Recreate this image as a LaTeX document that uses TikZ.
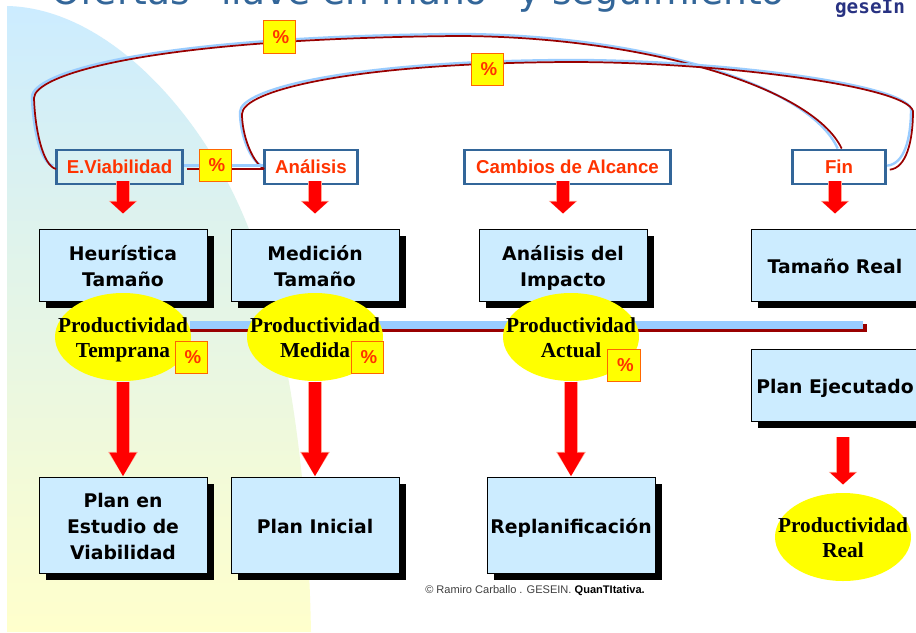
\documentclass[tikz,border=0pt]{standalone}
\usepackage{fontspec}
\setmainfont{Liberation Sans}
\newfontfamily\boxfont{DejaVu Sans}
\newfontfamily\logofont{DejaVu Sans Mono}
\newfontfamily\ovalfont{Liberation Serif}
\usetikzlibrary{arrows.meta,shadows,shapes.geometric}

\definecolor{boxblue}{RGB}{204,236,255}
\definecolor{framblue}{RGB}{51,102,153}
\definecolor{labred}{RGB}{255,51,0}
\definecolor{wireblue}{RGB}{153,204,255}
\definecolor{wirered}{RGB}{153,0,0}
\definecolor{bgtop}{RGB}{204,236,255}
\definecolor{bgbot}{RGB}{255,255,204}
\definecolor{ovalyellow}{RGB}{255,255,0}
\definecolor{pctedge}{RGB}{255,102,0}
\definecolor{halored}{RGB}{255,170,150}
\definecolor{logoblue}{RGB}{40,50,130}
\definecolor{pureRed}{RGB}{255,0,0}

\newcommand{\boxline}[1]{\smash{\raisebox{-6.6pt}{#1}}}
\newcommand{\ovalline}[1]{\smash{\raisebox{-6pt}{#1}}}

\tikzset{every picture/.style={line width=0.75pt}}
\tikzset{
  planbox/.style={draw=black,fill=boxblue,minimum width=126pt,minimum height=54pt,inner sep=0pt,align=center,
    font=\boxfont\bfseries\fontsize{14.1}{19.5}\selectfont,
    drop shadow={shadow xshift=5.6pt,shadow yshift=-5.6pt,fill=black,opacity=1}},
  hitobox/.style={draw=framblue,line width=2.2pt,minimum height=25.5pt,inner sep=0pt,text=labred,
    font=\bfseries\fontsize{14}{16}\selectfont},
  prodoval/.style={ellipse,fill=ovalyellow,minimum width=102pt,minimum height=66pt,inner xsep=-14pt,inner ysep=0pt,align=center,
    font=\ovalfont\bfseries\fontsize{16}{19}\selectfont},
  pctbox/.style={draw=pctedge,fill=ovalyellow,minimum size=24.5pt,inner sep=0pt,text=labred,
    font=\bfseries\fontsize{14}{16}\selectfont,
    execute at begin node={\kern2pt}},
  longarrow/.style={draw=pureRed,line width=9pt,-{Triangle[width=19pt,length=18pt]},
    preaction={draw=halored,line width=10.2pt,-{Triangle[width=21pt,length=18.5pt]}}},
  flatarrow/.style={draw=pureRed,line width=9pt,-{Triangle[width=19pt,length=9pt]},
    preaction={draw=halored,line width=10.2pt,-{Triangle[width=21pt,length=9.5pt]}}},
  wireback/.style={draw=wireblue,line width=1.8pt},
  wirefront/.style={draw=wirered,line width=1.3pt},
}

\begin{document}
\begin{tikzpicture}[x=0.75pt,y=0.75pt,yscale=-1,xscale=1]
\useasboundingbox (0,0) rectangle (916,632);
\fill[white] (0,0) rectangle (916,632);

%Shape: Background
\path[top color=bgtop,bottom color=bgbot,shading angle=0] (7,6) .. controls (110,8) and (210,120) .. (253,240) .. controls (290,345) and (308,480) .. (311,632) -- (7,632) -- cycle ;

% Text Node
\draw (418,4.5) node (title) [anchor=base,text=framblue] {\boxfont\fontsize{28.2}{30}\selectfont Ofertas “llave en mano” y seguimiento};
% Text Node
\draw (870,13) node (logo) [anchor=base,text=logoblue] {\logofont\bfseries\fontsize{14.5}{15}\selectfont geseIn};

%Shape: Bar
\draw [wirered,line width=6pt] (190,328) -- (866.5,328) ;
\draw [wireblue,line width=6pt] (190,325) -- (863,325) ;

% Hito boxes
\draw (119.5,167) node (eviab) [hitobox,minimum width=95pt] {E.Viabilidad};
\draw (311,167) node (anal) [hitobox,minimum width=70pt] {Análisis};
\draw (567.5,167) node (cambios) [hitobox,minimum width=155pt] {Cambios de Alcance};
\draw (839,167) node (fin) [hitobox,minimum width=70pt] {Fin};

% Plan boxes
\draw (123,265) node (heur) [planbox] {\boxline{Heurística}\\\boxline{Tamaño}};
\draw (315,265) node (medic) [planbox] {\boxline{Medición}\\\boxline{Tamaño}};
\draw (563,265) node (impacto) [planbox] {\boxline{Análisis del}\\\boxline{Impacto}};
\draw (835,265) node (treal) [planbox] {\boxline{Tamaño Real}};
\draw (835,385) node (pejec) [planbox] {\boxline{Plan Ejecutado}};
\draw (123,525) node (pestudio) [planbox,minimum height=72pt] {\boxline{Plan en}\\\boxline{Estudio de}\\\boxline{Viabilidad}};
\draw (315,525) node (pinicial) [planbox,minimum height=72pt] {\boxline{Plan Inicial}};
\draw (571,525) node (replan) [planbox,minimum height=72pt] {\boxline{Replanificación}};

% Ovals
\draw (123,337) node (ptemp) [prodoval] {\ovalline{Productividad}\\\ovalline{Temprana}};
\draw (315,337) node (pmed) [prodoval] {\ovalline{Productividad}\\\ovalline{Medida}};
\draw (571,337) node (pact) [prodoval] {\ovalline{Productividad}\\\ovalline{Actual}};
\draw (843,537) node (preal) [prodoval] {\ovalline{Productividad}\\\ovalline{Real}};

%Curve Lines
\draw [wireback] ([shift={(-1pt,-1pt)}]eviab.west) .. controls (41,164) and (33,130) .. (32,97) .. controls (32,74) and (140,37) .. (456,34) .. controls (640,34) and (809,84) .. ([xshift=-1pt]fin.north) ;
\draw [wirefront] ([shift={(1pt,1.5pt)}]eviab.west) .. controls (43,166) and (35,130) .. (34,98) .. controls (34,76) and (140,39) .. (456,36) .. controls (640,36) and (812,86) .. ([xshift=2pt]fin.north) ;
\draw [wireback] ([shift={(-1pt,-1pt)}]anal.west) .. controls (250,160) and (240,135) .. (240,112) .. controls (240,89) and (350,61) .. (570,60) .. controls (720,60) and (904,84) .. (911,109) .. controls (911,140) and (904,164) .. ([yshift=-1pt]fin.east) ;
\draw [wirefront] ([shift={(1pt,1.5pt)}]anal.west) .. controls (252,162) and (242,135) .. (242,114) .. controls (242,91) and (350,63) .. (570,62) .. controls (720,62) and (906,86) .. (913,111) .. controls (913,142) and (906,168) .. ([shift={(2pt,2pt)}]fin.east) ;
\draw [wireback] ([yshift=-1pt]eviab.east) -- ([yshift=-1pt]anal.west) ;
\draw [wirefront] ([shift={(2pt,1.5pt)}]eviab.east) -- ([shift={(1pt,1.5pt)}]anal.west) ;

% Percent boxes
\draw (279.5,37) node (pcta) [pctbox] {\%};
\draw (487.5,69.5) node (pctb) [pctbox] {\%};
\draw (215.5,165.5) node (pctc) [pctbox] {\%};
\draw (191.5,357.5) node (pctd) [pctbox] {\%};
\draw (367.5,357.5) node (pcte) [pctbox] {\%};
\draw (624,365.5) node (pctf) [pctbox] {\%};

%Straight Lines
\draw [flatarrow,shorten >=11.25pt] (123,181) -- (heur.north) ;
\draw [flatarrow,shorten >=11.25pt] (315,181) -- (medic.north) ;
\draw [flatarrow,shorten >=11.25pt] (563,181) -- (impacto.north) ;
\draw [flatarrow,shorten >=11.25pt] (835,181) -- (treal.north) ;
\draw [longarrow] (ptemp.south) -- (pestudio.north) ;
\draw [longarrow] (pmed.south) -- (pinicial.north) ;
\draw [longarrow] (pact.south) -- (replan.north) ;
\draw [flatarrow,shorten <=12pt,shorten >=6pt] (843,421) -- (preal.north) ;

% Text Node
\draw (535,591) node (footer) [text=black!75] {\fontsize{8.3}{9}\selectfont © Ramiro Carballo . GESEIN. {\bfseries\color{black}QuanTItativa.}};

\end{tikzpicture}
\end{document}
